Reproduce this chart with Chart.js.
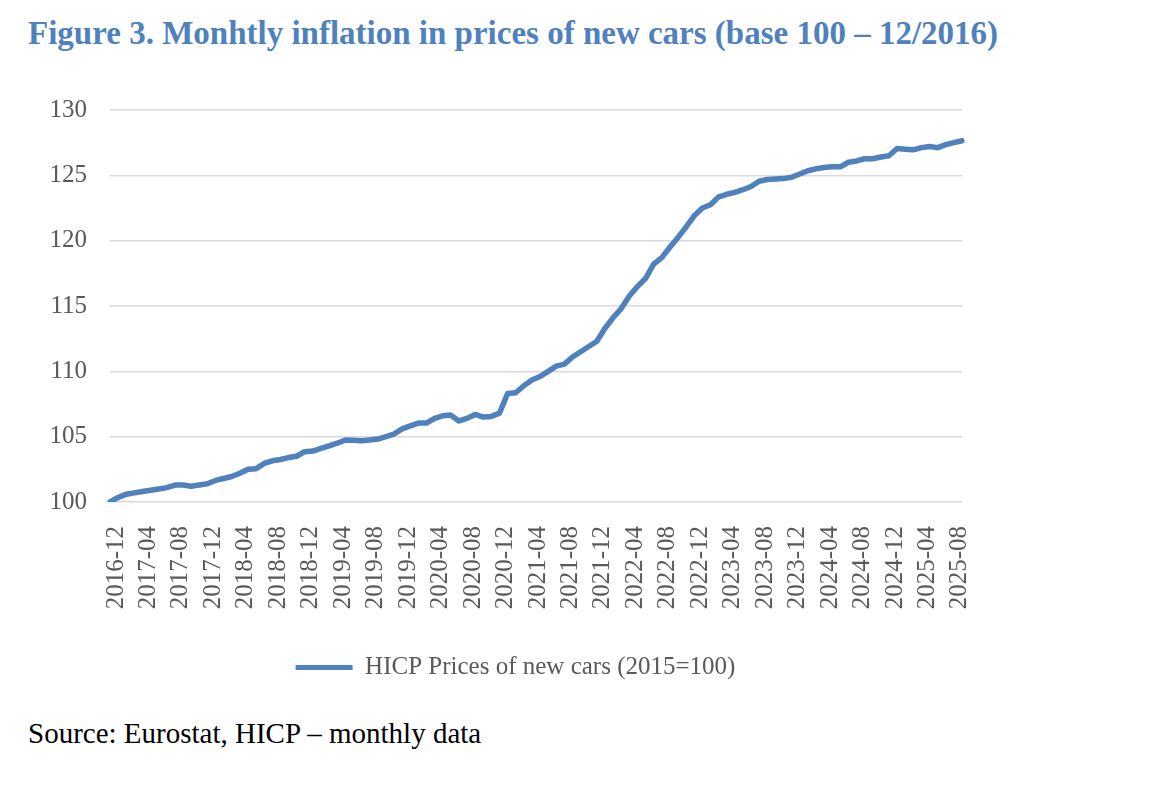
<!DOCTYPE html>
<html>
<head>
<meta charset="utf-8">
<script src="https://cdn.jsdelivr.net/npm/chart.js@4.4.1/dist/chart.umd.min.js"></script>
<style>
body { margin: 0; background: #fff; width: 1174px; height: 806px; position: relative; overflow: hidden; }
#title { position: absolute; left: 28px; top: 15px; font: bold 33px "Liberation Serif", serif; color: #4F81BD; white-space: nowrap; }
#chartBox { position: absolute; left: 0; top: 72px; width: 1008px; height: 628px; }
#source { position: absolute; left: 28px; top: 717px; font: 29px "Liberation Serif", serif; color: #000; white-space: nowrap; }
</style>
</head>
<body>
<div id="title">Figure 3. Monhtly inflation in prices of new cars (base 100 – 12/2016)</div>
<div id="chartBox"><canvas id="carChart"></canvas></div>
<div id="source">Source: Eurostat, HICP – monthly data</div>
<script>
// months 2016-12 .. 2025-09
const startYear = 2016, startMonth = 12, monthCount = 106;
const months = [];
for (let i = 0; i < monthCount; i++) {
    let m = startMonth - 1 + i;
    let y = startYear + Math.floor(m / 12);
    months.push(y + '-' + String(m % 12 + 1).padStart(2, '0'));
}

const seriesName = 'HICP Prices of new cars (2015=100)';
const carPrices = [
    100.0, 100.35, 100.6, 100.7, 100.8, 100.9, 101.0, 101.1, 101.3, 101.3, 101.2, 101.3,
    101.4, 101.65, 101.8, 101.95, 102.2, 102.5, 102.55, 102.95, 103.15, 103.25, 103.4, 103.5,
    103.85, 103.9, 104.1, 104.3, 104.5, 104.75, 104.72, 104.68, 104.75, 104.82, 105.0, 105.2,
    105.6, 105.82, 106.04, 106.04, 106.4, 106.6, 106.65, 106.2, 106.4, 106.7, 106.5, 106.55,
    106.8, 108.3, 108.36, 108.9, 109.33, 109.6, 110.0, 110.4, 110.55, 111.1, 111.5, 111.9,
    112.3, 113.3, 114.1, 114.8, 115.76, 116.5, 117.1, 118.2, 118.7, 119.5, 120.25, 121.05,
    121.9, 122.5, 122.75, 123.35, 123.55, 123.7, 123.9, 124.15, 124.55, 124.68, 124.72, 124.75,
    124.85, 125.1, 125.35, 125.5, 125.6, 125.65, 125.65, 126.0, 126.1, 126.27, 126.27, 126.4,
    126.5, 127.05, 127.0, 126.95, 127.12, 127.2, 127.12, 127.35, 127.5, 127.65
];
const yTicks = [100, 105, 110, 115, 120, 125, 130];

const lineBlue = '#4F81BD';
const textGrey = '#595959';
const gridGrey = '#D9D9D9';

// nudge the legend to the right, like the original
const legendShift = {
    id: 'legendShift',
    afterLayout(chart) {
        chart.legend.left += 28;
        chart.legend.right += 28;
    }
};

const ctx = document.getElementById('carChart').getContext('2d');
new Chart(ctx, {
    type: 'line',
    data: {
        labels: months,
        datasets: [{
            label: seriesName,
            data: carPrices,
            borderColor: lineBlue,
            backgroundColor: lineBlue,
            borderWidth: 5.5,
            pointRadius: 0,
            tension: 0,
            borderCapStyle: 'round',
            borderJoinStyle: 'round'
        }]
    },
    plugins: [legendShift],
    options: {
        responsive: true,
        maintainAspectRatio: false,
        animation: false,
        layout: { padding: { top: 15, right: 33, left: 0, bottom: 10 } },
        plugins: {
            tooltip: { enabled: false },
            legend: {
                position: 'bottom',
                labels: {
                    color: textGrey,
                    font: { family: 'Liberation Serif', size: 25 },
                    boxWidth: 57,
                    boxHeight: 5,
                    padding: 12,
                    generateLabels: chart => chart.data.datasets.map((ds, i) => ({
                        text: ds.label,
                        fillStyle: lineBlue,
                        strokeStyle: lineBlue,
                        lineWidth: 0,
                        fontColor: textGrey,
                        datasetIndex: i
                    }))
                }
            }
        },
        scales: {
            y: {
                min: yTicks[0],
                max: yTicks[yTicks.length - 1],
                afterBuildTicks: scale => { scale.ticks = yTicks.map(v => ({ value: v })); },
                afterFit: scale => { scale.width = 110; },
                ticks: {
                    color: textGrey,
                    font: { family: 'Liberation Serif', size: 25 },
                    padding: 23
                },
                grid: { color: gridGrey, lineWidth: 1.5, drawTicks: false },
                border: { display: false }
            },
            x: {
                offset: false,
                afterFit: scale => { scale.height = 141; },
                ticks: {
                    autoSkip: false,
                    minRotation: 90,
                    maxRotation: 90,
                    padding: 16,
                    labelOffset: 6,
                    color: textGrey,
                    font: { family: 'Liberation Serif', size: 25 },
                    callback: (val, i) => (i % 4 === 0 ? months[i] : '')
                },
                grid: { display: false },
                border: { display: false }
            }
        }
    }
});
</script>
</body>
</html>
